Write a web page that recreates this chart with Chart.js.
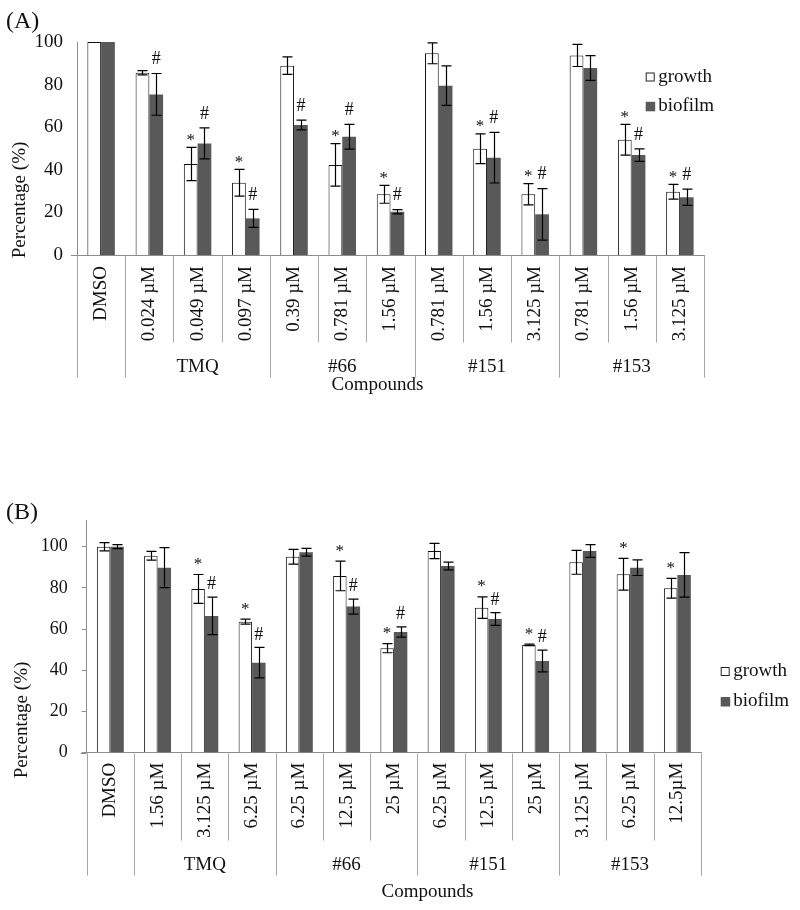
<!DOCTYPE html>
<html><head><meta charset="utf-8">
<script src="https://cdn.jsdelivr.net/npm/chart.js@4.4.1/dist/chart.umd.min.js"></script>
<style>
html,body{margin:0;padding:0;background:#fff;}
canvas{position:absolute;left:0;}
#chartA{top:0;}
#chartB{top:460px;}
</style></head><body>
<canvas id="chartA" width="800" height="410"></canvas>
<canvas id="chartB" width="800" height="450"></canvas>
<script>
// ---------- data ----------
const seriesNames = ['growth', 'biofilm'];
const groupNames = ['', 'TMQ', '#66', '#151', '#153'];
const groupSizes = [1, 3, 3, 3, 3];
const yTickValues = [0, 20, 40, 60, 80, 100];
const xTitle = 'Compounds';
const yTitle = 'Percentage (%)';

const labelsA = ['DMSO', '0.024 µM', '0.049 µM', '0.097 µM', '0.39 µM', '0.781 µM', '1.56 µM',
  '0.781 µM', '1.56 µM', '3.125 µM', '0.781 µM', '1.56 µM', '3.125 µM'];
const growthA = [100, 85.6, 42.7, 33.9, 88.9, 42.3, 28.5, 94.7, 49.9, 28.5, 93.7, 54.1, 29.7];
const growthErrA = [0, 1, 7.8, 6.3, 4.1, 10, 4.2, 4.9, 7, 5, 5.2, 7.2, 3.5];
const biofilmA = [100, 75.4, 52.4, 17.2, 61, 55.5, 20.3, 79.5, 45.7, 19.1, 87.8, 46.9, 27.1];
const biofilmErrA = [0, 9.8, 7.3, 4.2, 2.3, 5.8, 1, 9.3, 11.9, 12.1, 5.8, 2.9, 3.8];
const starA = [0, 0, 1, 1, 0, 1, 1, 0, 1, 1, 0, 1, 1];
const hashA = [0, 1, 1, 1, 1, 1, 1, 0, 1, 1, 0, 1, 1];
const yMaxA = 100;

const labelsB = ['DMSO', '1.56 µM', '3.125 µM', '6.25 µM', '6.25 µM', '12.5 µM', '25 µM',
  '6.25 µM', '12.5 µM', '25 µM', '3.125 µM', '6.25 µM', '12.5µM'];
const growthB = [100, 95.6, 79.5, 63.6, 95.1, 85.8, 50.7, 97.9, 70.4, 52.3, 92.4, 86.6, 79.8];
const growthErrB = [2, 2.1, 7, 1.2, 3.6, 7.2, 2.2, 3.7, 5.2, 0.4, 5.8, 7.7, 4.8];
const biofilmB = [100, 89.8, 66.4, 43.7, 97.3, 70.9, 58.6, 90.6, 64.9, 44.5, 97.9, 89.8, 86.3];
const biofilmErrB = [1, 9.7, 9.1, 7.4, 1.9, 3.6, 2.5, 1.9, 3.1, 5.3, 3.1, 3.8, 10.8];
const starB = [0, 0, 1, 1, 0, 1, 1, 0, 1, 1, 0, 1, 1];
const hashB = [0, 0, 1, 1, 0, 1, 1, 0, 1, 1, 0, 0, 0];
const yMaxB = 112.6;

// ---------- styling ----------
const SERIF = "'Liberation Serif', 'Times New Roman', serif";
Chart.defaults.font.family = SERIF;
Chart.defaults.color = '#111';
const AXIS = '#8c8c8c';
const SEP = '#a6a6a6';
const DARK = '#595959';

function makeOverlay(cfg) {
  return {
    id: 'overlay' + cfg.panel.replace(/\W/g, ''),
    afterDatasetsDraw(chart) {
      const ctx = chart.ctx, ys = chart.scales.y;
      ctx.save();
      ctx.strokeStyle = '#000';
      ctx.lineWidth = 1.2;
      const tops = [];
      cfg.errors.forEach((errs, d) => {
        const meta = chart.getDatasetMeta(d);
        const vals = chart.data.datasets[d].data;
        tops[d] = [];
        meta.data.forEach((bar, i) => {
          const e = errs[i];
          const yt = ys.getPixelForValue(vals[i] + e);
          tops[d][i] = { x: bar.x, y: yt };
          if (!e) return;
          const yb = ys.getPixelForValue(vals[i] - e);
          const cx = Math.round(bar.x) + 0.5;
          ctx.beginPath();
          ctx.moveTo(cx, yt); ctx.lineTo(cx, yb);
          ctx.moveTo(cx - 5, yt); ctx.lineTo(cx + 5, yt);
          ctx.moveTo(cx - 5, yb); ctx.lineTo(cx + 5, yb);
          ctx.stroke();
        });
      });
      // significance marks
      ctx.fillStyle = '#111';
      ctx.textAlign = 'center';
      ctx.textBaseline = 'middle';
      cfg.marks[0].forEach((m, i) => {
        if (!m) return;
        ctx.font = '17px ' + SERIF;
        ctx.fillText('*', tops[0][i].x, tops[0][i].y - cfg.starGap + 3);
      });
      cfg.marks[1].forEach((m, i) => {
        if (!m) return;
        ctx.font = '18px ' + SERIF;
        ctx.fillText('#', tops[1][i].x, tops[1][i].y - cfg.hashGap);
      });
      ctx.restore();
    },
    afterDraw(chart) {
      const ctx = chart.ctx, xs = chart.scales.x;
      const n = chart.data.labels.length;
      const w = (xs.right - xs.left) / n;
      const axisY = Math.round(xs.top) + 0.5;
      ctx.save();
      // axis stub to the left of the y axis
      ctx.strokeStyle = AXIS; ctx.lineWidth = 1;
      ctx.beginPath(); ctx.moveTo(xs.left - 6, axisY); ctx.lineTo(xs.left, axisY); ctx.stroke();
      // separators
      const groupEdges = new Set([0]);
      let acc = 0;
      groupSizes.forEach(s => { acc += s; groupEdges.add(acc); });
      ctx.strokeStyle = SEP;
      for (let i = 0; i <= n; i++) {
        const bx = Math.round(xs.left + i * w) + 0.5;
        const len = groupEdges.has(i) ? cfg.groupLen : cfg.innerLen;
        ctx.beginPath(); ctx.moveTo(bx, axisY); ctx.lineTo(bx, axisY + len); ctx.stroke();
      }
      // group labels
      ctx.fillStyle = '#111';
      ctx.font = '19px ' + SERIF;
      ctx.textAlign = 'center';
      ctx.textBaseline = 'middle';
      let start = 0;
      groupSizes.forEach((s, g) => {
        const cx = xs.left + (start + s / 2) * w;
        if (groupNames[g]) ctx.fillText(groupNames[g], cx, axisY + cfg.groupLabelOffset);
        start += s;
      });
      // x title
      ctx.fillText(xTitle, cfg.xTitlePos[0], cfg.xTitlePos[1]);
      // y title
      ctx.save();
      ctx.translate(cfg.yTitlePos[0], cfg.yTitlePos[1]);
      ctx.rotate(-Math.PI / 2);
      ctx.fillText(yTitle, 0, 0);
      ctx.restore();
      // panel label
      ctx.textAlign = 'left';
      ctx.font = '24px ' + SERIF;
      ctx.fillText(cfg.panel, cfg.panelPos[0], cfg.panelPos[1]);
      // legend
      const [lx, ly] = cfg.legendPos;
      ctx.font = '19px ' + SERIF;
      seriesNames.forEach((name, k) => {
        const sy = ly + k * cfg.legendStep;
        if (k === 0) {
          ctx.fillStyle = '#fff'; ctx.fillRect(lx, sy - 4.5, 9, 9);
          ctx.strokeStyle = '#222'; ctx.lineWidth = 1;
          ctx.strokeRect(lx + 0.5, sy - 4.5 + 0.5, 8, 8);
        } else {
          ctx.fillStyle = DARK; ctx.fillRect(lx, sy - 4.5, 9.5, 9.5);
        }
        ctx.fillStyle = '#111';
        ctx.fillText(name, lx + 12.5, sy);
      });
      ctx.restore();
    }
  };
}

function buildChart(id, labels, growth, biofilm, yMax, cfg) {
  return new Chart(document.getElementById(id), {
    type: 'bar',
    data: {
      labels: labels,
      datasets: [
        { label: seriesNames[0], data: growth, backgroundColor: '#fff', borderColor: '#111', borderWidth: 1,
          categoryPercentage: 0.57, barPercentage: 1 },
        { label: seriesNames[1], data: biofilm, backgroundColor: DARK, borderWidth: 0,
          categoryPercentage: 0.57, barPercentage: 1 }
      ]
    },
    options: {
      responsive: false,
      animation: false,
      devicePixelRatio: 1,
      layout: { padding: { top: cfg.top, right: cfg.rightPad, left: 0, bottom: 0 } },
      plugins: { legend: { display: false }, tooltip: { enabled: false } },
      scales: {
        x: {
          grid: { display: false, drawTicks: false },
          border: { display: true, color: AXIS, width: 1 },
          ticks: { autoSkip: false, minRotation: 90, maxRotation: 90, padding: cfg.xPad,
                   font: { size: 19, family: SERIF }, color: '#111' },
          afterFit(scale) { scale.height = cfg.xHeight; }
        },
        y: {
          min: 0, max: yMax,
          grid: cfg.yGrid,
          border: { display: true, color: AXIS, width: 1 },
          ticks: { padding: cfg.yPad, font: { size: cfg.tickSize, family: SERIF }, color: '#111' },
          afterBuildTicks(scale) { scale.ticks = yTickValues.map(v => ({ value: v })); },
          afterFit(scale) { scale.width = cfg.left; }
        }
      }
    },
    plugins: [makeOverlay(cfg)]
  });
}

buildChart('chartA', labelsA, growthA, biofilmA, yMaxA, {
  panel: '(A)', panelPos: [6, 22],
  top: 42, left: 77, rightPad: 96, xHeight: 155, xPad: 11,
  yGrid: { display: false, drawTicks: false }, yPad: 14, tickSize: 19,
  errors: [growthErrA, biofilmErrA], marks: [starA, hashA], starGap: 10, hashGap: 14,
  innerLen: 87, groupLen: 122, groupLabelOffset: 111.5,
  xTitlePos: [377.5, 385], yTitlePos: [20, 200],
  legendPos: [645.7, 77], legendStep: 29.3
});

buildChart('chartB', labelsB, growthB, biofilmB, yMaxB, {
  panel: '(B)', panelPos: [6, 53],
  top: 60.7, left: 86.7, rightPad: 99, xHeight: 157.3, xPad: 10,
  yGrid: { display: true, drawOnChartArea: false, drawTicks: true, tickLength: 5, color: AXIS }, yPad: 14, tickSize: 18,
  errors: [growthErrB, biofilmErrB], marks: [starB, hashB], starGap: 13, hashGap: 12.5,
  innerLen: 87, groupLen: 122, groupLabelOffset: 111.5,
  xTitlePos: [427.5, 431.7], yTitlePos: [21.7, 260],
  legendPos: [720.7, 211.5], legendStep: 30
});
</script>
</body></html>
